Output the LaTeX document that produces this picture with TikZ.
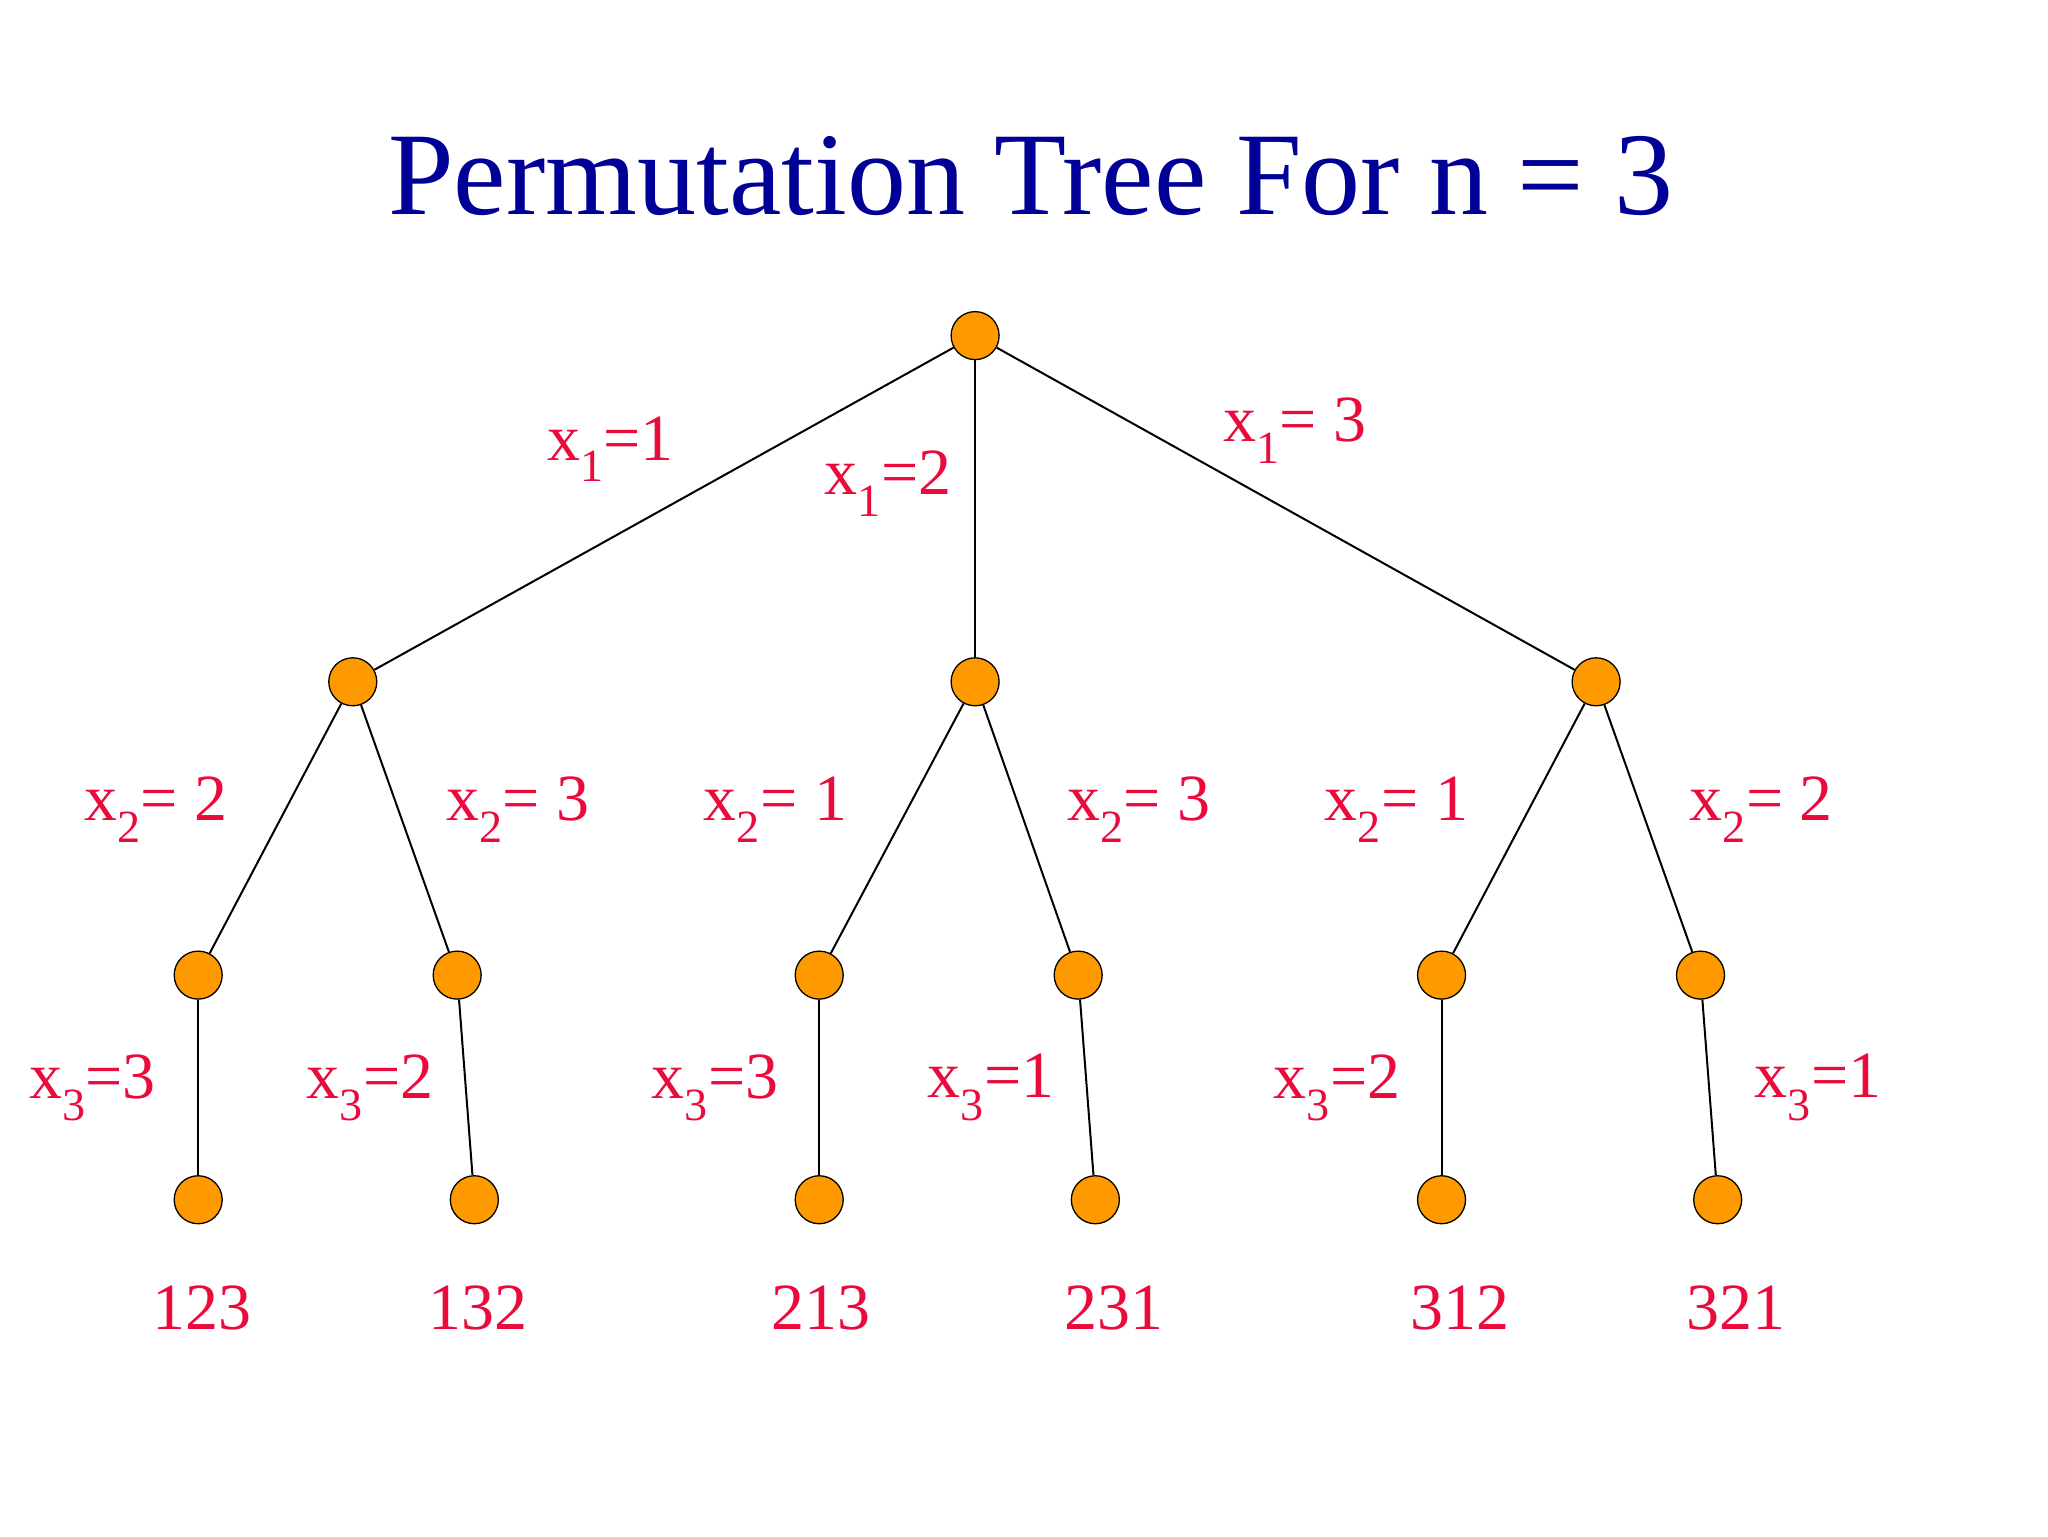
\documentclass[tikz,border=0pt]{standalone}
\usepackage{fontspec}
\setmainfont{Liberation Serif}
\definecolor{tblue}{RGB}{0,0,150}
\definecolor{lred}{RGB}{235,10,60}
\definecolor{norange}{RGB}{255,153,0}
\begin{document}
\begin{tikzpicture}[x=1.3213pt,y=-1.3213pt,
  dot/.style={circle,draw=black,fill=norange,line width=1.3pt,minimum size=48pt,inner sep=0pt},
  lab/.style={text=lred,font=\fontsize{66}{70}\selectfont,inner sep=0pt},
  edge/.style={line width=2pt}]
\useasboundingbox (0,0) rectangle (1550,1162.5);
\node[text=tblue,font=\fontsize{118}{120}\selectfont] (title) at (780,133) {Permutation Tree For n = 3};
\node[dot] (r) at (738,254) {};
\node[dot] (a) at (267,516) {};
\node[dot] (b) at (738,516) {};
\node[dot] (c) at (1208,516) {};
\node[dot] (a1) at (150,738) {};
\node[dot] (a2) at (346,738) {};
\node[dot] (b1) at (620,738) {};
\node[dot] (b2) at (816,738) {};
\node[dot] (c1) at (1091,738) {};
\node[dot] (c2) at (1287,738) {};
\node[dot] (l1) at (150,908) {};
\node[dot] (l2) at (359,908) {};
\node[dot] (l3) at (620,908) {};
\node[dot] (l4) at (829,908) {};
\node[dot] (l5) at (1091,908) {};
\node[dot] (l6) at (1300,908) {};
\foreach \p/\q in {r/a,r/b,r/c,a/a1,a/a2,b/b1,b/b2,c/c1,c/c2,a1/l1,a2/l2,b1/l3,b2/l4,c1/l5,c2/l6}
  \draw[edge] (\p) -- (\q);
\node[lab] (n1) at (153,990) {123};
\node[lab] (n2) at (362,990) {132};
\node[lab] (n3) at (621,990) {213};
\node[lab] (n4) at (843,990) {231};
\node[lab] (n5) at (1105,990) {312};
\node[lab] (n6) at (1314,990) {321};
\node[lab] (e1) at (462,340) {x\textsubscript{1}=1};
\node[lab] (e2) at (672,366) {x\textsubscript{1}=2};
\node[lab] (e3) at (980,326) {x\textsubscript{1}= 3};
\node[lab] (f1) at (118,613) {x\textsubscript{2}= 2};
\node[lab] (f2) at (392,613) {x\textsubscript{2}= 3};
\node[lab] (f3) at (587,613) {x\textsubscript{2}= 1};
\node[lab] (f4) at (862,613) {x\textsubscript{2}= 3};
\node[lab] (f5) at (1057,613) {x\textsubscript{2}= 1};
\node[lab] (f6) at (1333,613) {x\textsubscript{2}= 2};
\node[lab] (g1) at (70,823) {x\textsubscript{3}=3};
\node[lab] (g2) at (280,823) {x\textsubscript{3}=2};
\node[lab] (g3) at (541,823) {x\textsubscript{3}=3};
\node[lab] (g4) at (750,823) {x\textsubscript{3}=1};
\node[lab] (g5) at (1012,823) {x\textsubscript{3}=2};
\node[lab] (g6) at (1376,823) {x\textsubscript{3}=1};
\end{tikzpicture}
\end{document}
